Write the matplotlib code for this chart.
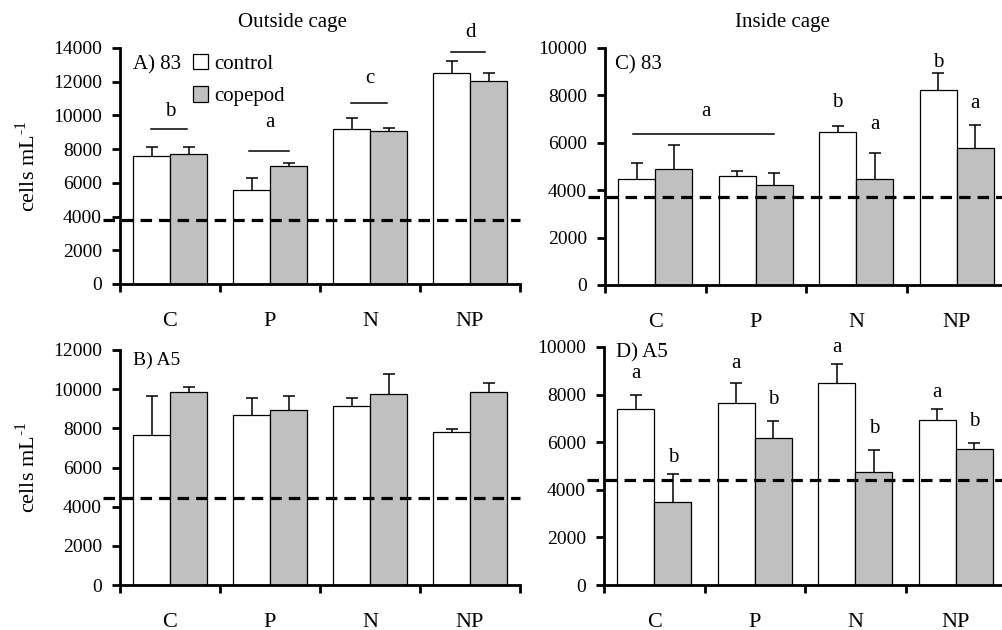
import numpy as np
import matplotlib
matplotlib.use("Agg")
import matplotlib.pyplot as plt
from matplotlib.patches import Patch

plt.rcParams['font.family'] = ['Liberation Serif', 'DejaVu Serif']
plt.rcParams['mathtext.fontset'] = 'custom'
plt.rcParams['mathtext.rm'] = 'Liberation Serif'

categories = ['C', 'P', 'N', 'NP']

# A) 83, outside cage
a_control = [7600, 5600, 9200, 12500]
a_control_err = [550, 700, 630, 700]
a_copepod = [7700, 7000, 9100, 12050]
a_copepod_err = [450, 150, 160, 450]
a_ref = 3800

# B) A5, outside cage
b_control = [7640, 8700, 9160, 7800]
b_control_err = [2030, 830, 370, 150]
b_copepod = [9840, 8940, 9750, 9840]
b_copepod_err = [290, 730, 1010, 460]
b_ref = 4450

# C) 83, inside cage
c_control = [4470, 4590, 6450, 8210]
c_control_err = [680, 240, 250, 720]
c_copepod = [4900, 4225, 4465, 5760]
c_copepod_err = [1000, 480, 1110, 1000]
c_ref = 3700

# D) A5, inside cage
d_control = [7390, 7630, 8490, 6950]
d_control_err = [600, 860, 800, 430]
d_copepod = [3500, 6160, 4740, 5730]
d_copepod_err = [1170, 730, 920, 230]
d_ref = 4400

# significance letters: (text, x, y) and bracket lines (x0, x1, y)
a_letters = [('b', 0, 10260), ('a', 1, 9600), ('c', 2, 12220), ('d', 3, 14890)]
a_lines = [(-0.19, 0.17, 9200), (0.79, 1.19, 7890), (1.81, 2.17, 10740), (2.81, 3.15, 13760)]
c_letters = [('a', 0.5, 7300), ('b', 1.815, 7680), ('a', 2.185, 6790),
             ('b', 2.815, 9370), ('a', 3.185, 7640)]
c_lines = [(-0.22, 1.18, 6370)]
d_letters = [('a', -0.185, 8880), ('b', 0.185, 5340), ('a', 0.815, 9300), ('b', 1.185, 7780),
             ('a', 1.815, 9970), ('b', 2.185, 6560), ('a', 2.815, 8090), ('b', 3.185, 6860)]

W, H = 1002, 630
fig = plt.figure(figsize=(W / 100, H / 100), dpi=100)

def px_axes(left, top, right, bottom):
    return fig.add_axes([left / W, 1 - bottom / H, (right - left) / W, (bottom - top) / H])

ax_a = px_axes(120, 48, 520, 284)
ax_c = px_axes(605, 48, 1007, 285)
ax_b = px_axes(120, 350, 520, 585)
ax_d = px_axes(604, 347, 1006, 585)

GREY = '#c0c0c0'
bw = 0.37

def draw_panel(ax, ctrl, ctrl_err, cope, cope_err, ref, ymax, step, label, label_xy, label_fs=15):
    x = np.arange(len(categories))
    ax.bar(x - bw / 2, ctrl, bw, color='white', edgecolor='black', linewidth=0.9, zorder=2)
    ax.bar(x + bw / 2, cope, bw, color=GREY, edgecolor='black', linewidth=0.9, zorder=2)
    for xs, ys, es in ((x - bw / 2, ctrl, ctrl_err), (x + bw / 2, cope, cope_err)):
        _, caps, _ = ax.errorbar(xs, ys, yerr=[np.zeros(4), es], fmt='none', ecolor='black',
                                 elinewidth=1.1, capsize=4.3, capthick=1.1, zorder=3)
        caps[0].set_visible(False)  # only upper caps
    ax.axhline(ref, xmin=-0.043, xmax=1, color='black', lw=2.3, ls=(0, (3.6, 2.2)),
               clip_on=False, zorder=4)
    ax.set_xlim(-0.5, 3.5)
    ax.set_ylim(0, ymax)
    ax.set_yticks(np.arange(0, ymax + 1, step))
    ax.set_xticks(np.arange(-0.5, 3.6, 1))
    ax.set_xticklabels([])
    ax.set_xticks(x, minor=True)
    ax.set_xticklabels(categories, minor=True, fontsize=16)
    ax.tick_params(axis='x', which='minor', length=0, pad=20)
    ax.tick_params(axis='x', which='major', length=6, width=2, direction='out')
    ax.tick_params(axis='y', length=6, width=2, direction='out', labelsize=14, pad=7)
    for s in ['top', 'right']:
        ax.spines[s].set_visible(False)
    for s in ['left', 'bottom']:
        ax.spines[s].set_linewidth(2)
    ax.text(label_xy[0], label_xy[1], label, transform=ax.transAxes, fontsize=label_fs,
            va='center', ha='left')

draw_panel(ax_a, a_control, a_control_err, a_copepod, a_copepod_err, a_ref, 14000, 2000,
           'A) 83', (0.033, 0.93))
draw_panel(ax_b, b_control, b_control_err, b_copepod, b_copepod_err, b_ref, 12000, 2000,
           'B) A5', (0.033, 0.955), label_fs=14)
draw_panel(ax_c, c_control, c_control_err, c_copepod, c_copepod_err, c_ref, 10000, 2000,
           'C) 83', (0.025, 0.93))
draw_panel(ax_d, d_control, d_control_err, d_copepod, d_copepod_err, d_ref, 10000, 2000,
           'D) A5', (0.03, 0.975))

for ax in (ax_a, ax_b):
    ax.set_ylabel('cells mL$^{\\text{-1}}$', fontsize=16)
    ax.yaxis.set_label_coords(-0.2, 0.5)

for ax, letters, lines in ((ax_a, a_letters, a_lines), (ax_c, c_letters, c_lines),
                           (ax_d, d_letters, [])):
    for t, xx, yy in letters:
        ax.text(xx, yy, t, ha='center', va='center', fontsize=15, clip_on=False)
    for x0, x1, yy in lines:
        ax.plot([x0, x1], [yy, yy], color='black', lw=1.1, clip_on=False)

handles = [Patch(facecolor='white', edgecolor='black', linewidth=0.9, label='control'),
           Patch(facecolor=GREY, edgecolor='black', linewidth=0.9, label='copepod')]
ax_a.legend(handles=handles, loc='upper left', bbox_to_anchor=(0.182, 0.975), frameon=False,
            fontsize=15, handlelength=0.75, handleheight=0.75, handletextpad=0.3,
            labelspacing=0.6, borderpad=0, borderaxespad=0)

fig.text(292 / W, 1 - 23 / H, 'Outside cage', ha='center', va='center', fontsize=15)
fig.text(782 / W, 1 - 23 / H, 'Inside cage', ha='center', va='center', fontsize=15)

fig.savefig('out.png', dpi=100)
